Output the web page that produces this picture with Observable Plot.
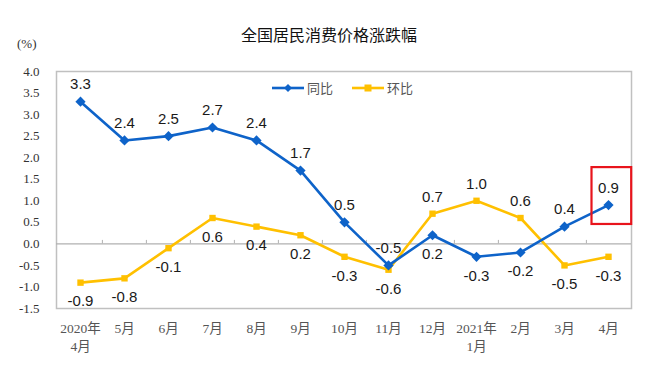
<!DOCTYPE html>
<html>
<head>
<meta charset="utf-8">
<script src="https://cdn.jsdelivr.net/npm/d3@7"></script>
<script src="https://cdn.jsdelivr.net/npm/@observablehq/plot@0.6"></script>
<style>
  html, body { margin: 0; padding: 0; background: #fff; }
  #wrap { position: relative; width: 654px; height: 376px; overflow: hidden; }
  #chart { position: absolute; left: 0; top: 0; }
  .title { position: absolute; left: 2px; width: 654px; top: 22px; text-align: center;
           font-family: "Noto Sans CJK SC", sans-serif; font-size: 16px; color: #111; }
  .unit { position: absolute; left: 17px; top: 36px; font-family: "Liberation Serif", serif;
          font-size: 13px; color: #333; }
  .legend { position: absolute; top: 78px; font-family: "Noto Sans CJK SC", sans-serif;
            font-size: 13px; color: #555; display: flex; align-items: center; }
  .legend svg { margin-right: 3px; }
</style>
</head>
<body>
<div id="wrap">
  <div id="chart"></div>
  <div class="title">全国居民消费价格涨跌幅</div>
  <div class="unit">(%)</div>
  <div id="legend"></div>
</div>
<script>
const categories = ["2020年\n4月","5月","6月","7月","8月","9月","10月","11月","12月","2021年\n1月","2月","3月","4月"];
const yoyValues = [3.3, 2.4, 2.5, 2.7, 2.4, 1.7, 0.5, -0.5, 0.2, -0.3, -0.2, 0.4, 0.9];
const momValues = [-0.9, -0.8, -0.1, 0.6, 0.4, 0.2, -0.3, -0.6, 0.7, 1.0, 0.6, -0.5, -0.3];
const seriesNames = ["同比", "环比"];
const yTicks = [-1.5, -1.0, -0.5, 0.0, 0.5, 1.0, 1.5, 2.0, 2.5, 3.0, 3.5, 4.0];

const colors = {"同比": "#0e63c9", "环比": "#ffc000"};
const W = 654, H = 376, mL = 56, mR = 23, mT = 71, mB = 68;
const bw = (W - mL - mR) / categories.length;

const rows = [];
categories.forEach((c, i) => {
  rows.push({cat: c, series: seriesNames[0], v: yoyValues[i], other: momValues[i]});
  rows.push({cat: c, series: seriesNames[1], v: momValues[i], other: yoyValues[i]});
});
const above = rows.filter(d => d.v > d.other);
const below = rows.filter(d => d.v <= d.other);
const fmt = d => d.toFixed(1);
const yoyRows = rows.filter(d => d.series === seriesNames[0]);
const momRows = rows.filter(d => d.series === seriesNames[1]);
const last = yoyRows[yoyRows.length - 1];

const labelFont = "Liberation Sans, Arial, sans-serif";

const chart = Plot.plot({
  width: W, height: H,
  marginTop: mT, marginBottom: mB, marginLeft: mL, marginRight: mR,
  style: {background: "transparent", fontFamily: "Liberation Serif, Noto Sans CJK SC, serif"},
  x: {type: "band", domain: categories, padding: 0, axis: null},
  y: {domain: [-1.5, 4], axis: null},
  marks: [
    Plot.frame({stroke: "#c0c0c0", strokeWidth: 1.5}),
    Plot.axisY(yTicks, {tickSize: 0, tickPadding: 17, tickFormat: fmt, fontSize: 13,
      fill: "#333", label: null, fontFamily: "Liberation Serif, serif"}),
    Plot.axisX({tickSize: 0, tickPadding: 11, lineHeight: 1.38, fontSize: 13.5,
      fill: "#555", label: null, fontFamily: "Liberation Serif, Noto Sans CJK SC, serif"}),
    Plot.ruleY([0], {stroke: "#b0b0b0", strokeWidth: 1.2}),
    Plot.ruleX(categories.slice(1), {x: d => d, y1: 0, y2: 0.08, dx: -bw / 2, stroke: "#b0b0b0"}),
    Plot.line(momRows, {x: "cat", y: "v", stroke: colors["环比"], strokeWidth: 2.6}),
    Plot.line(yoyRows, {x: "cat", y: "v", stroke: colors["同比"], strokeWidth: 2.6}),
    Plot.dot(momRows, {x: "cat", y: "v", symbol: "square", r: 3.6, fill: colors["环比"], stroke: "none"}),
    Plot.dot(yoyRows, {x: "cat", y: "v", symbol: "diamond2", r: 4.6, fill: colors["同比"], stroke: "none"}),
    Plot.text(above, {x: "cat", y: "v", text: d => fmt(d.v), dy: -17, fontSize: 15,
      fill: "#1a1a1a", fontFamily: labelFont}),
    Plot.text(below, {x: "cat", y: "v", text: d => fmt(d.v), dy: 19, fontSize: 15,
      fill: "#1a1a1a", fontFamily: labelFont}),
    Plot.barY([last], {x: "cat", y1: d => d.v - 0.45, y2: d => d.v + 0.87, fill: "none",
      stroke: "#e8141c", strokeWidth: 2.2, insetLeft: 5.5, insetRight: -1.2})
  ]
});
document.getElementById("chart").appendChild(chart);

// legend
const legend = document.getElementById("legend");
const legendX = [272, 352];
seriesNames.forEach((name, i) => {
  const div = document.createElement("div");
  div.className = "legend";
  div.style.left = legendX[i] + "px";
  const sym = name === seriesNames[0]
    ? '<path d="M16,5 L20,9 L16,13 L12,9 Z" fill="' + colors[name] + '"/>'
    : '<rect x="12.5" y="5.5" width="7" height="7" fill="' + colors[name] + '"/>';
  div.innerHTML = '<svg width="32" height="18"><line x1="0" x2="32" y1="9" y2="9" stroke="' +
    colors[name] + '" stroke-width="2.6"/>' + sym + '</svg><span>' + name + '</span>';
  legend.appendChild(div);
});
</script>
</body>
</html>
